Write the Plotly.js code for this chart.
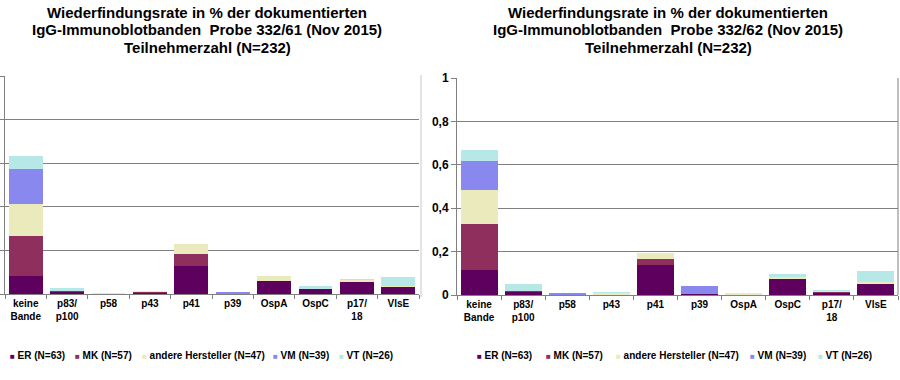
<!DOCTYPE html>
<html>
<head>
<meta charset="utf-8">
<script src="https://cdn.plot.ly/plotly-3.0.1.min.js"></script>
<style>html,body{margin:0;padding:0;background:#fff;}#chart{width:900px;height:380px;}</style>
</head>
<body>
<div id="chart"></div>
<script>
// ---- data ----
const categories = ["keine<br>Bande","p83/<br>p100","p58","p43","p41","p39","OspA","OspC","p17/<br>18","VlsE"];
const seriesNames = ["ER (N=63)","MK (N=57)","andere Hersteller (N=47)","VM (N=39)","VT (N=26)"];

// Probe 332/61
const er61  = [0.084, 0.009, 0.000, 0.006, 0.127, 0.002, 0.061, 0.021, 0.056, 0.030];
const mk61  = [0.183, 0.003, 0.000, 0.002, 0.057, 0.000, 0.000, 0.000, 0.000, 0.000];
const and61 = [0.147, 0.000, 0.004, 0.007, 0.045, 0.000, 0.022, 0.004, 0.008, 0.008];
const vm61  = [0.159, 0.000, 0.000, 0.000, 0.000, 0.006, 0.000, 0.000, 0.000, 0.000];
const vt61  = [0.061, 0.016, 0.000, 0.000, 0.000, 0.000, 0.000, 0.012, 0.007, 0.040];

// Probe 332/62
const er62  = [0.115, 0.012, 0.002, 0.002, 0.137, 0.005, 0.002, 0.072, 0.011, 0.051];
const mk62  = [0.214, 0.005, 0.000, 0.000, 0.028, 0.000, 0.000, 0.000, 0.004, 0.000];
const and62 = [0.153, 0.000, 0.000, 0.005, 0.030, 0.000, 0.006, 0.010, 0.004, 0.009];
const vm62  = [0.134, 0.000, 0.007, 0.000, 0.000, 0.036, 0.000, 0.000, 0.000, 0.000];
const vt62  = [0.054, 0.034, 0.000, 0.005, 0.000, 0.000, 0.000, 0.015, 0.004, 0.051];

const titleLines61 = ["Wiederfindungsrate in % der dokumentierten","IgG-Immunoblotbanden  Probe 332/61 (Nov 2015)","Teilnehmerzahl (N=232)"];
const titleLines62 = ["Wiederfindungsrate in % der dokumentierten","IgG-Immunoblotbanden  Probe 332/62 (Nov 2015)","Teilnehmerzahl (N=232)"];

// ---- style ----
const colors = ["#5e005e","#8e2f5e","#eaeabd","#8888ee","#b6e8e8"];
const W = 900, H = 380;
const px = v => v / W;
const py = v => 1 - v / H;

const set61 = [er61, mk61, and61, vm61, vt61];
const set62 = [er62, mk62, and62, vm62, vt62];

const traces = [];
set61.forEach((vals, i) => traces.push({
  type: "bar", x: categories, y: vals, name: seriesNames[i],
  xaxis: "x", yaxis: "y", width: 0.82, showlegend: false,
  marker: {color: colors[i], line: {width: 0}}, hoverinfo: "skip"
}));
set62.forEach((vals, i) => traces.push({
  type: "bar", x: categories, y: vals, name: seriesNames[i],
  xaxis: "x2", yaxis: "y2", width: 0.84, showlegend: false,
  marker: {color: colors[i], line: {width: 0}}, hoverinfo: "skip"
}));

const FAM = "Arial, 'Liberation Sans', sans-serif";
const tickFont = {family: FAM, size: 10, color: "#000", weight: "bold"};
const xBase = {
  type: "category", range: [-0.5, 9.5], tickson: "boundaries",
  ticks: "outside", ticklen: 4, tickcolor: "#808080", showline: true,
  linecolor: "#808080", linewidth: 1, showgrid: false, tickfont: tickFont,
  fixedrange: true
};
const yBase = {
  range: [0, 1], dtick: 0.2, tick0: 0, ticks: "outside", ticklen: 5,
  tickcolor: "#808080", showline: true, linecolor: "#808080", linewidth: 1,
  showgrid: true, gridcolor: "#808080", gridwidth: 1, zeroline: false,
  tickfont: {family: FAM, size: 12, color: "#000", weight: "bold"},
  fixedrange: true
};

const annotations = [];
const titleFont = {family: FAM, size: 15, color: "#000", weight: "bold"};
const titleY = [12.5, 29.5, 47];
titleLines61.forEach((t, k) => annotations.push({
  xref: "paper", yref: "paper", x: px(207), y: py(titleY[k]), xanchor: "center", yanchor: "middle",
  text: t, showarrow: false, font: titleFont
}));
titleLines62.forEach((t, k) => annotations.push({
  xref: "paper", yref: "paper", x: px(668), y: py(titleY[k]), xanchor: "center", yanchor: "middle",
  text: t, showarrow: false, font: titleFont
}));

// legends (one per chart)
const legFont = {family: FAM, size: 10, color: "#000", weight: "bold"};
const legX61 = [8, 73, 140, 271, 337];
const legX62 = [475, 544, 614, 748, 816];
function addLegend(xs) {
  seriesNames.forEach((n, i) => annotations.push({
    xref: "paper", yref: "paper", x: px(xs[i]), y: py(355), xanchor: "left", yanchor: "middle",
    showarrow: false, font: legFont,
    text: '<span style="color:' + colors[i] + ';font-size:8px">\u25A0</span> ' + n
  }));
}
addLegend(legX61);
addLegend(legX62);

const layout = {
  width: W, height: H, autosize: false,
  margin: {l: 0, r: 0, t: 0, b: 0, pad: 0},
  paper_bgcolor: "#ffffff", plot_bgcolor: "#ffffff",
  barmode: "stack", separators: ",.", showlegend: false,
  xaxis: Object.assign({}, xBase, {domain: [px(5), px(419)], anchor: "y"}),
  yaxis: Object.assign({}, yBase, {domain: [1 - 294 / H, 1 - 76 / H], anchor: "x", showticklabels: false}),
  xaxis2: Object.assign({}, xBase, {domain: [px(457), px(898)], anchor: "y2"}),
  yaxis2: Object.assign({}, yBase, {domain: [1 - 295 / H, 1 - 78 / H], anchor: "x2"}),
  annotations: annotations,
  shapes: [
    {type: "line", xref: "paper", yref: "paper", x0: px(421), x1: px(421), y0: py(297), y1: py(75),
     line: {color: "#c8c8c8", width: 1}},
    {type: "line", xref: "paper", yref: "paper", x0: px(898), x1: px(898), y0: py(295), y1: py(78),
     line: {color: "#808080", width: 1}}
  ]
};

Plotly.newPlot("chart", traces, layout, {staticPlot: true, displayModeBar: false});
</script>
</body>
</html>
